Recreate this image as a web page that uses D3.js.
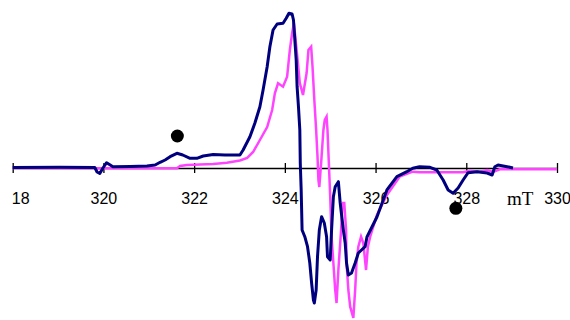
<!DOCTYPE html>
<html>
<head>
<meta charset="utf-8">
<script src="https://cdn.jsdelivr.net/npm/d3@7"></script>
<style>
  body { margin: 0; background: #fff; }
  svg { display: block; }
</style>
</head>
<body>
<div id="chart"></div>
<script>
// field in mT
const navyField = [318.0, 319.04, 319.81, 319.86, 319.92, 319.99, 320.07, 320.15, 320.21, 320.59, 320.96, 321.14, 321.25, 321.36, 321.47, 321.62, 321.75, 321.91, 322.06, 322.20, 322.42, 322.68, 323.01, 323.08, 323.23, 323.34, 323.45, 323.52, 323.61, 323.67, 323.74, 323.83, 323.96, 324.03, 324.09, 324.16, 324.19, 324.21, 324.25, 324.27, 324.30, 324.33, 324.34, 324.36, 324.38, 324.44, 324.50, 324.55, 324.59, 324.63, 324.65, 324.69, 324.72, 324.76, 324.81, 324.87, 324.92, 324.94, 325.00, 325.03, 325.07, 325.11, 325.18, 325.22, 325.29, 325.33, 325.36, 325.40, 325.47, 325.55, 325.62, 325.77, 325.81, 326.03, 326.25, 326.47, 326.69, 326.82, 326.97, 327.20, 327.35, 327.49, 327.60, 327.71, 327.82, 327.93, 328.04, 328.24, 328.46, 328.57, 328.63, 328.70, 328.90, 329.03];
const navySignal = [0.5, 0.7, 0.5, -4, -5.5, 0, 5.3, 3, 1.3, 1.5, 2, 3, 5.7, 8, 11.3, 14.7, 13, 9.7, 9.7, 12, 13.5, 13, 13, 18, 31.3, 45, 61.3, 78, 101.3, 121.3, 138, 144, 144.7, 149.7, 154.7, 154, 148, 135, 108, 81.3, 61.3, 38, 5, -22, -62, -68.7, -78.7, -95, -115, -132, -135, -122, -88.7, -62, -48.7, -55, -68.7, -88.7, -92, -62, -28.7, -18.7, -13.7, -35, -62, -75, -95, -107, -105, -95, -85, -78.7, -69, -49, -22, -8.7, -3.7, -0.3, 1.3, 0.7, -2, -12, -22, -25.3, -20, -12, -4.7, -3.7, -5, -7, 1.3, 3, 1.3, 0];

const pinkField = [318.0, 319.92, 321.62, 321.69, 321.84, 322.13, 322.42, 322.72, 323.01, 323.17, 323.30, 323.45, 323.61, 323.72, 323.78, 323.85, 323.96, 324.05, 324.11, 324.16, 324.20, 324.26, 324.33, 324.40, 324.48, 324.52, 324.58, 324.61, 324.65, 324.69, 324.72, 324.74, 324.76, 324.80, 324.85, 324.88, 324.92, 324.94, 324.97, 325.00, 325.03, 325.07, 325.11, 325.14, 325.18, 325.24, 325.27, 325.31, 325.35, 325.36, 325.40, 325.44, 325.51, 325.55, 325.58, 325.62, 325.68, 325.73, 325.79, 325.83, 325.88, 326.03, 326.25, 326.53, 326.82, 326.97, 327.93, 328.08, 328.30, 328.46, 328.59, 328.74, 330.0];
const pinkSignal = [0, -0.3, -0.3, 2, 3, 3.5, 4, 5.3, 7.5, 10, 16, 28, 41, 58, 74.7, 84.7, 81.3, 91.3, 118, 134.7, 144.7, 118, 85, 73, 95, 118, 121.3, 101.3, 68, 38, 11.3, -12, -19, 5, 38, 48, 51.3, 38, 5, -28.7, -68.7, -95, -122, -135, -102, -62, -35, -35, -62, -95, -122, -138.7, -150, -122, -95, -78.7, -68.7, -75, -102, -79, -69, -47, -27, -8.7, -3.7, -4.3, -4.3, -2.7, -3.7, -2, -4, -1.3, -1.3];

const tickValues = [318, 320, 322, 324, 326, 328, 330];
const tickLabels = ["18", "320", "322", "324", "326", "328", "330"];
const unitLabel = "mT";

// the two marked lines
const markerField = [321.63, 327.77];
const markerSignal = [32, -40.3];

const width = 570, height = 320;

const svg = d3.select("#chart").append("svg")
  .attr("width", width)
  .attr("height", height);

const x = d3.scaleLinear().domain([318, 330]).range([12.7, 557]);
const y = d3.scaleLinear().domain([-152, 168]).range([320, 0]);

// axis through zero
const xAxis = svg.append("g")
  .attr("transform", `translate(0, ${y(0)})`)
  .call(d3.axisBottom(x)
    .tickValues(tickValues)
    .tickSize(10)
    .tickSizeOuter(0)
    .tickFormat((d, i) => tickLabels[i]));

xAxis.select(".domain").attr("stroke", "#000").attr("stroke-width", 1.3);
xAxis.selectAll(".tick line")
  .attr("y1", -5).attr("y2", 5)
  .attr("stroke", "#000").attr("stroke-width", 1.3);
xAxis.selectAll(".tick text")
  .attr("y", 36).attr("dy", 0)
  .attr("fill", "#000")
  .style("font-family", "'Liberation Sans', Arial, sans-serif")
  .style("font-size", "16px");
// the first label is shown clipped in the source
xAxis.selectAll(".tick text").filter((d, i) => i === 0).attr("dx", 7.5);

svg.append("text")
  .attr("x", 507)
  .attr("y", 205)
  .style("font-family", "'Liberation Serif', 'Times New Roman', serif")
  .style("font-size", "19px")
  .text(unitLabel);

const line = d3.line()
  .x(d => x(d[0]))
  .y(d => y(d[1]));

const pink = d3.zip(pinkField, pinkSignal);
const navy = d3.zip(navyField, navySignal);

svg.append("path")
  .datum(pink)
  .attr("fill", "none")
  .attr("stroke", "#ff44ff")
  .attr("stroke-width", 2.5)
  .attr("d", line);

svg.append("path")
  .datum(navy)
  .attr("fill", "none")
  .attr("stroke", "#00007f")
  .attr("stroke-width", 3)
  .attr("stroke-linejoin", "round")
  .attr("d", line);

svg.selectAll(".marker")
  .data(d3.zip(markerField, markerSignal))
  .enter().append("circle")
  .attr("class", "marker")
  .attr("cx", d => x(d[0]))
  .attr("cy", d => y(d[1]))
  .attr("r", 6.5)
  .attr("fill", "#000");
</script>
</body>
</html>
